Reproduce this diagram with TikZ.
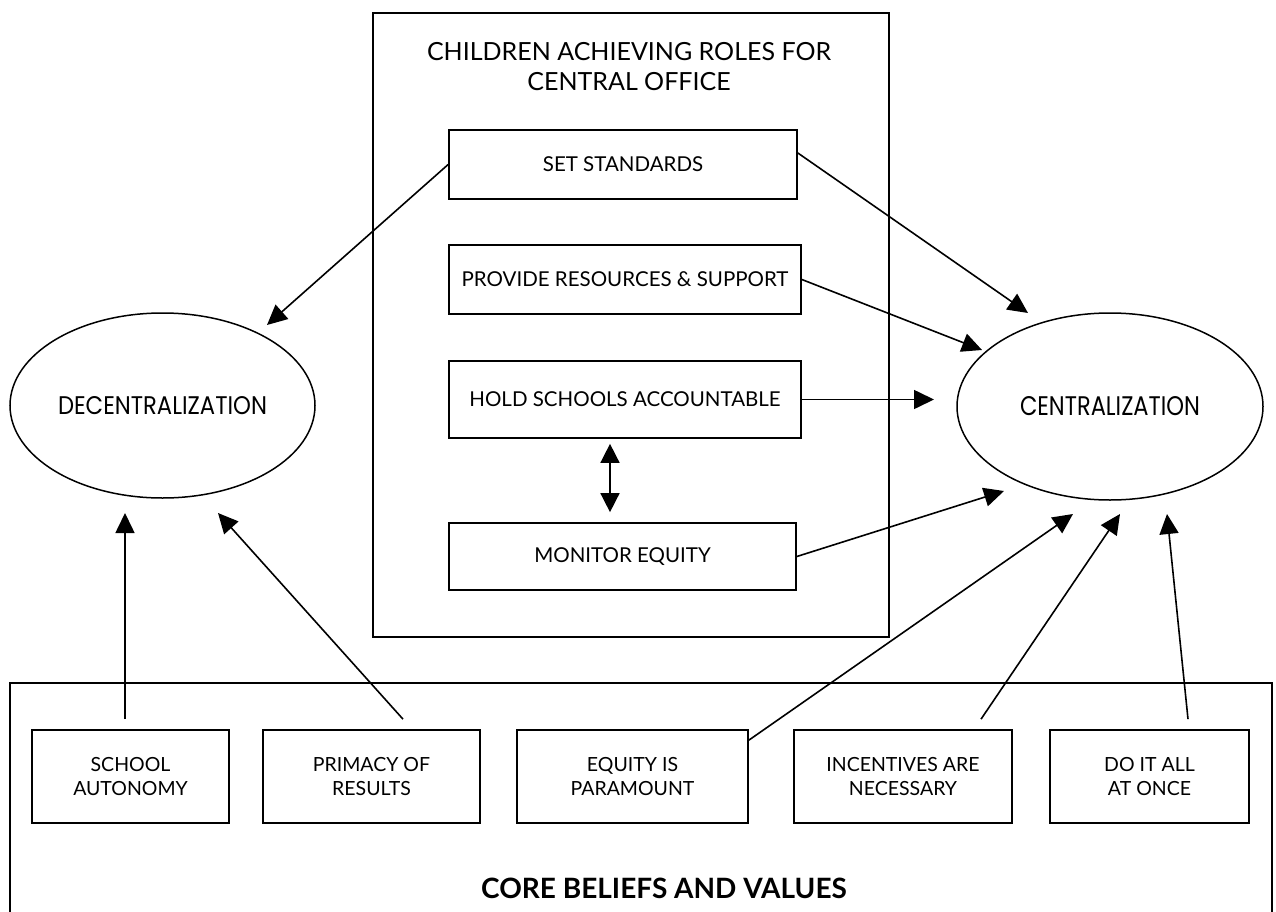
\documentclass[tikz,border=0pt]{standalone}
\usepackage{fontspec}
\usepackage{graphicx}
\setmainfont{Lato}
\newfontfamily\ellfont{Poppins}
\usetikzlibrary{arrows.meta,shapes.geometric,calc}
\tikzset{
  frame/.style={draw, line width=1.7pt},
  rolebox/.style={draw, line width=1.7pt, inner sep=0pt, align=center,
    font=\fontsize{20.5}{24}\selectfont},
  beliefbox/.style={draw, line width=1.7pt, inner sep=0pt, align=center,
    minimum height=93pt, font=\fontsize{19.5}{24.5}\selectfont},
  oval/.style={draw, ellipse, line width=1.5pt, inner sep=0pt},
  link/.style={line width=1.6pt, -{Triangle[length=20pt,width=19pt]}},
  duallink/.style={line width=1.6pt, {Triangle[length=19pt,width=19pt]}-{Triangle[length=19pt,width=19pt]}},
}
\begin{document}
\begin{tikzpicture}[x=1pt,y=-1pt]
\useasboundingbox (0,0) rectangle (1276,912);
% central office box
\node[frame, minimum width=516pt, minimum height=624pt, inner sep=0pt] (roles) at (631,325) {};
\node[align=center, font=\fontsize{25}{30}\selectfont] (title) at (629,67) {CHILDREN ACHIEVING ROLES FOR\\CENTRAL OFFICE};
\node[rolebox, minimum width=348pt, minimum height=69pt] (set) at (623,164.5) {SET STANDARDS};
\node[rolebox, minimum width=352pt, minimum height=69pt] (prov) at (625,279.5) {PROVIDE RESOURCES \& SUPPORT};
\node[rolebox, minimum width=352pt, minimum height=77pt] (hold) at (625,399.5) {HOLD SCHOOLS ACCOUNTABLE};
\node[rolebox, minimum width=347pt, minimum height=67pt] (mon) at (622.5,556.5) {MONITOR EQUITY};
% ellipses
\node[oval, minimum width=305pt, minimum height=185pt] (dec) at (162.5,405.5) {\resizebox{209pt}{18pt}{\ellfont DECENTRALIZATION}};
\node[oval, minimum width=306pt, minimum height=187pt] (cen) at (1110,406.5) {\resizebox{180pt}{19pt}{\ellfont CENTRALIZATION}};
% core beliefs frame
\draw[frame] (10,913) -- (10,683) -- (1272,683) -- (1272,913);
\node[font=\bfseries\fontsize{28}{30}\selectfont] (core) at (664,888) {CORE BELIEFS AND VALUES};
\node[beliefbox, minimum width=197pt] (school) at (130.5,776.5) {SCHOOL\\AUTONOMY};
\node[beliefbox, minimum width=217pt] (prim) at (371.5,776.5) {PRIMACY OF\\RESULTS};
\node[beliefbox, minimum width=231pt] (eq) at (632.5,776.5) {EQUITY IS\\PARAMOUNT};
\node[beliefbox, minimum width=218pt] (inc) at (903,776.5) {INCENTIVES ARE\\NECESSARY};
\node[beliefbox, minimum width=199pt] (doit) at (1149.5,776.5) {DO IT ALL\\AT ONCE};
% arrow tips
\coordinate (tSet) at (267,325);
\coordinate (tSetC) at (1028,313);
\coordinate (tProv) at (982,350);
\coordinate (tHold) at (934,399.5);
\coordinate (tMon) at (1004,491);
\coordinate (tEq) at (1073,514);
\coordinate (tInc) at (1120,514);
\coordinate (tDo) at (1167,514);
\coordinate (tSch) at (125,513);
\coordinate (tPrim) at (218,513);
% arrows
\draw[link] (set.west) -- (tSet);
\draw[link] ([yshift=11.5pt]set.east) -- (tSetC);
\draw[link] (prov.east) -- (tProv);
\draw[link] (hold.east) -- (tHold);
\draw[link] (mon.east) -- (tMon);
\draw[duallink] ([xshift=-15pt,yshift=-5pt]hold.south) -- ([xshift=-12.5pt,yshift=10pt]mon.north);
\draw[link] ([yshift=-11pt]eq.north east) -- (tEq);
\draw[link] ([xshift=78pt,yshift=10pt]inc.north) -- (tInc);
\draw[link] ([xshift=38.5pt,yshift=10pt]doit.north) -- (tDo);
\draw[link] ([xshift=-5.5pt,yshift=10pt]school.north) -- (tSch);
\draw[link] ([xshift=31.5pt,yshift=10pt]prim.north) -- (tPrim);
\end{tikzpicture}
\end{document}
